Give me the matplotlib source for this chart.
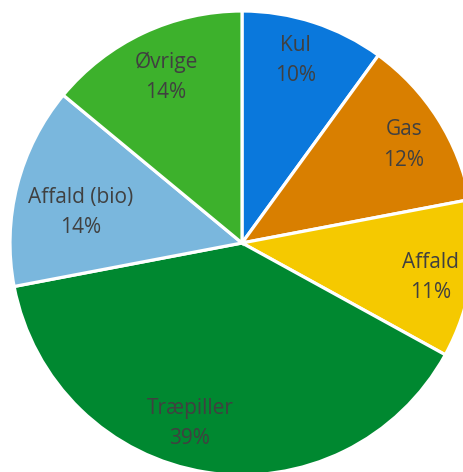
import matplotlib
matplotlib.use("Agg")
import matplotlib.pyplot as plt
import numpy as np

categories = ["Kul", "Gas", "Affald", "Træpiller", "Affald (bio)", "Øvrige"]
values = [10, 12, 11, 39, 14, 14]
colors = ["#0A78DC", "#D97F00", "#F5C900", "#008830", "#7AB7DD", "#3DB12C"]
label_r = [0.82, 0.815, 0.825, 0.81, 0.71, 0.787]
label_shift = [1.8, -1.2, -1.5, -7.1, 3.7, -0.6]  # degrees

W, H = 464, 472
fig = plt.figure(figsize=(W / 100, H / 100), dpi=100)
ax = fig.add_axes([0, 0, 1, 1])
ax.set_xlim(0, W)
ax.set_ylim(0, H)
ax.axis("off")

cx, cy, R = 242, H - 243, 232
wedges, _ = ax.pie(values, colors=colors, startangle=90, counterclock=False,
                   center=(cx, cy), radius=R,
                   wedgeprops=dict(edgecolor="white", linewidth=2.3))
ax.set_xlim(0, W)
ax.set_ylim(0, H)

total = sum(values)
start = 90.0
for i, (c, v) in enumerate(zip(categories, values)):
    sweep = 360.0 * v / total
    mid = np.deg2rad(start - sweep / 2 + label_shift[i])
    start -= sweep
    x = cx + label_r[i] * R * np.cos(mid)
    y = cy + label_r[i] * R * np.sin(mid)
    ax.text(x, y, f"{c}\n{v}%", ha="center", va="center", fontsize=15,
            family="Open Sans", color="#404040", linespacing=1.57)

fig.savefig("out.png", dpi=100)
